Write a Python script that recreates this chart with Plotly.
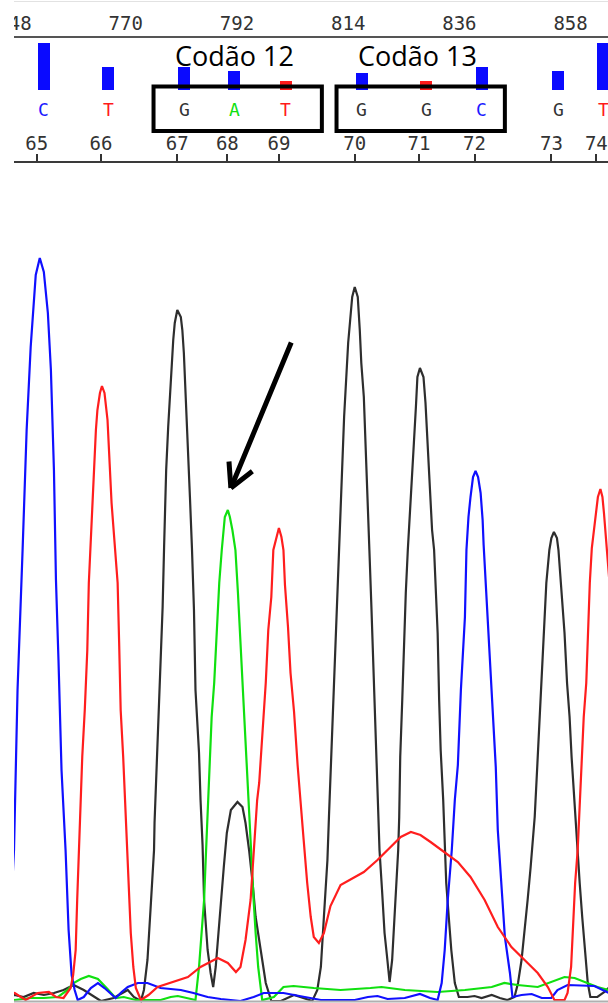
import plotly.graph_objects as go

# ---------------- data ----------------
scan_ticks = [748, 770, 792, 814, 836, 858]
base_numbers = [65, 66, 67, 68, 69, 70, 71, 72, 73, 74]
base_calls = ["C", "T", "G", "A", "T", "G", "G", "C", "G", "T"]
base_scan = [752.4, 765.1, 780.2, 790.1, 800.3, 815.3, 828.0, 839.0, 854.2, 863.1]
quality = [47, 23, 23, 19, 9, 17, 9, 23, 19, 47]
low_quality = [False, False, False, False, True, False, True, False, False, False]
codon_labels = ["Codão 12", "Codão 13"]
codon_spans = [(775.5, 808.8), (811.7, 845.0)]   # scan extent of each codon box

# channel traces: scan position and signal intensity
blue_scan = [743.3, 745.3, 745.9, 746.9, 747.9, 748.6, 749.6, 750.4, 751.2, 752.2, 753.0, 753.8, 754.6,
             755.2, 755.8, 756.2, 756.7, 757.3, 758.1, 758.7, 759.3, 759.9, 760.5, 761.7, 763.1, 764.5,
             765.8, 767.0, 768.0, 769.2, 770.4, 772.4, 774.3, 776.9, 780.9, 783.4, 786.2, 788.8, 792.7,
             795.3, 797.3, 801.2, 804.6, 808.6, 815.3, 817.9, 819.8, 821.8, 825.2, 828.2, 830.2, 831.7,
             832.5, 833.1, 833.7, 834.5, 835.1, 835.7, 836.3, 837.1, 837.4, 837.8, 838.2, 838.7, 839.2,
             839.7, 840.2, 840.6, 840.8, 841.6, 842.2, 842.8, 843.2, 843.6, 844.4, 845.0, 846.0, 846.5,
             848.3, 850.3, 852.3, 854.2, 855.4, 857.4, 862.7, 865.5, 866.9]
blue_signal = [0, 2, 5, 48, 148, 308, 448, 568, 651, 723, 740, 726, 685,
               628, 528, 418, 338, 228, 148, 68, 23, 8, -2, 1, 10, 15,
               10, 5, 0, 6, 11, 15, 15, 10, 8, 5, 1, -1, -3,
               1, 5, 5, 2, -2, -2, 1, 2, -1, 0, 4, 0, -2,
               15, 48, 98, 148, 198, 233, 308, 381, 448, 481, 501, 521, 527,
               521, 505, 478, 453, 381, 321, 268, 231, 168, 105, 61, 25, 1,
               3, 4, 0, 0, 8, 13, 12, 5, 2]

red_scan = [743.3, 748.0, 750.2, 752.6, 754.8, 756.2, 757.7, 759.1, 759.6, 760.1, 760.4, 760.7, 761.1,
            761.4, 761.9, 762.4, 762.7, 763.1, 763.4, 763.7, 764.1, 764.4, 764.9, 765.3, 765.8, 766.4,
            766.8, 767.2, 767.8, 768.4, 768.7, 769.0, 769.5, 769.9, 770.3, 770.7, 771.0, 771.5, 772.0,
            773.0, 774.5, 776.3, 779.5, 782.3, 784.8, 788.2, 790.2, 791.8, 792.7, 793.7, 794.7, 795.4,
            796.0, 796.4, 797.0, 797.7, 798.2, 798.8, 799.2, 799.9, 800.3, 800.8, 801.2, 801.5, 802.1,
            802.6, 803.3, 804.0, 804.7, 805.2, 805.9, 806.6, 807.2, 808.2, 809.2, 810.5, 812.5, 814.5,
            817.1, 819.8, 822.4, 824.4, 826.4, 828.3, 830.3, 832.9, 835.7, 838.2, 841.0, 843.6, 846.3,
            848.9, 851.5, 853.5, 854.8, 856.8, 857.4, 858.1, 858.5, 858.9, 859.4, 859.8, 860.2, 860.6,
            861.1, 861.4, 861.8, 862.2, 862.6, 862.9, 863.4, 863.9, 864.3, 864.6, 864.9, 865.2, 865.7,
            866.1, 866.7, 867.2, 867.7, 868.1, 868.5, 869.7, 870.5, 871.8]
red_signal = [3, 5, -2, 5, 6, 1, 0, 10, 23, 48, 98, 148, 198,
              241, 288, 348, 415, 458, 501, 535, 568, 588, 605, 612, 605, 578,
              538, 495, 455, 415, 355, 288, 241, 195, 148, 98, 65, 31, 10,
              -2, 3, 11, 16, 21, 31, 40, 35, 26, 31, 58, 98, 148,
              198, 215, 261, 315, 368, 401, 448, 461, 470, 461, 448, 413, 371,
              325, 286, 233, 193, 158, 115, 81, 61, 55, 65, 92, 113, 119,
              126, 138, 151, 161, 166, 163, 156, 146, 136, 121, 98, 71, 51,
              38, 25, 11, -2, -2, 5, 31, 81, 115, 148, 198, 241, 281,
              315, 365, 415, 450, 468, 485, 501, 509, 501, 485, 468, 450, 415,
              365, 315, 281, 241, 198, 148, 31, 5, 0]

green_scan = [743.3, 748.0, 751.2, 753.8, 756.6, 758.5, 759.7, 761.1, 762.7, 764.5, 766.4, 768.0, 769.6,
              772.0, 776.9, 778.9, 780.3, 782.3, 783.8, 784.5, 785.0, 785.5, 785.9, 786.2, 786.5, 786.7,
              787.0, 787.5, 788.0, 788.5, 789.0, 789.3, 789.6, 790.2, 790.6, 791.1, 791.7, 792.2, 792.7,
              793.1, 793.6, 794.1, 794.4, 794.7, 795.3, 795.7, 796.2, 797.0, 799.3, 801.2, 803.2, 807.2,
              812.5, 818.4, 820.6, 825.2, 831.7, 837.1, 842.4, 844.9, 847.5, 851.5, 854.2, 856.8, 858.8,
              861.4, 863.3, 865.5, 867.9]
green_signal = [0, -2, 0, 0, 1, 8, 15, 19, 22, 19, 9, 0, 1,
                -2, -2, 1, 2, 0, -2, 31, 65, 98, 148, 181, 215, 241,
                281, 315, 365, 415, 448, 468, 481, 488, 481, 468, 448, 405, 355,
                308, 261, 215, 181, 148, 98, 65, 31, -2, 1, 11, 12, 10,
                8, 10, 11, 8, 6, 8, 11, 15, 13, 11, 16, 21, 20,
                15, 11, 8, 6]

black_scan = [743.3, 748.0, 749.8, 751.8, 753.8, 755.8, 757.7, 759.7, 761.7, 763.7, 765.1, 767.6, 770.4,
              771.6, 773.0, 773.6, 774.3, 774.9, 775.6, 775.7, 776.1, 776.4, 776.9, 777.3, 777.6, 777.8,
              778.0, 778.4, 778.8, 779.1, 779.4, 779.7, 780.2, 780.9, 781.2, 781.5, 781.9, 782.2, 782.7,
              783.1, 783.5, 783.8, 784.5, 784.8, 785.2, 785.5, 786.2, 786.8, 787.3, 787.8, 788.3, 788.8,
              789.4, 790.0, 790.8, 792.1, 793.1, 793.7, 794.4, 795.1, 795.7, 796.7, 797.7, 798.8, 800.7,
              803.3, 805.3, 806.9, 807.9, 808.6, 809.2, 809.9, 810.2, 810.7, 811.0, 811.5, 811.8, 812.2,
              812.3, 812.8, 813.2, 813.6, 814.0, 814.4, 814.8, 815.3, 815.9, 816.3, 816.6, 817.1, 817.5,
              817.9, 818.2, 818.6, 819.0, 819.4, 819.9, 820.2, 820.7, 821.2, 821.7, 822.2, 822.7, 823.2,
              823.7, 823.9, 824.1, 824.3, 824.7, 825.0, 825.4, 825.8, 826.0, 826.5, 827.0, 827.4, 827.7,
              828.2, 828.9, 829.3, 829.7, 830.2, 830.6, 831.0, 831.3, 831.7, 832.0, 832.3, 832.8, 833.1,
              833.4, 833.9, 834.4, 835.1, 835.9, 837.6, 839.0, 840.4, 842.4, 844.0, 845.5, 846.9, 847.6,
              848.3, 848.9, 849.5, 850.1, 850.4, 850.9, 851.4, 851.9, 852.3, 852.7, 853.2, 853.8, 854.2,
              854.7, 855.3, 855.6, 856.2, 856.8, 857.3, 857.8, 858.2, 858.7, 859.2, 859.8, 860.3, 860.9,
              861.4, 861.9, 863.3, 864.7, 865.5, 866.9]
black_signal = [1, 3, 1, 5, 3, 5, 8, 13, 8, 1, -3, 0, 8,
                1, -3, 8, 38, 88, 148, 175, 228, 275, 325, 391, 453, 491,
                528, 571, 611, 641, 658, 675, 688, 681, 668, 645, 601, 555, 501,
                450, 388, 308, 245, 198, 153, 98, 48, 25, 11, 31, 65, 98,
                131, 165, 188, 196, 191, 175, 148, 115, 81, 48, 15, -3, -3,
                3, 0, -3, 8, 31, 81, 138, 181, 248, 298, 348, 398, 448,
                468, 535, 581, 618, 655, 678, 701, 711, 701, 668, 635, 601, 551,
                501, 448, 391, 331, 281, 215, 148, 108, 65, 41, 16, 38, 81,
                131, 148, 181, 241, 298, 348, 405, 448, 468, 515, 555, 591, 621,
                630, 621, 595, 558, 515, 468, 448, 415, 365, 298, 248, 198, 148,
                115, 81, 48, 15, 1, 1, 2, 0, 3, 0, -2, 1, 15,
                38, 65, 98, 131, 148, 181, 231, 281, 315, 365, 415, 448, 460,
                466, 460, 448, 408, 365, 315, 281, 241, 198, 163, 115, 81, 48,
                15, 1, 1, 6, 10, 23]

# ---------------- layout helpers ----------------
W, H = 608, 1003
def py(p):
    return (H - p) / H

X_LEFT = 14 / W
X_RANGE = [747.9, 865.4]
LETTER_SHIFT = 1.4
MONO = "DejaVu Sans Mono"
base_colors = {"C": "#1a1aff", "T": "#ff1a1a", "G": "#333333", "A": "#10e010"}

fig = go.Figure()

channels = [
    (black_scan, black_signal, "#2e2e2e"),
    (green_scan, green_signal, "#10e010"),
    (blue_scan, blue_signal, "#1010ff"),
    (red_scan, red_signal, "#ff1e1e"),
]
for xs, ys, col in channels:
    fig.add_trace(go.Scatter(x=xs, y=ys, mode="lines", line=dict(color=col, width=2.2),
                             xaxis="x", yaxis="y", hoverinfo="skip", showlegend=False))

letter_x = [s + LETTER_SHIFT for s in base_scan]
fig.add_trace(go.Bar(x=letter_x, y=quality, width=2.37,
                     marker=dict(color=["#ff1a1a" if lq else "#0a0aff" for lq in low_quality], line_width=0),
                     xaxis="x2", yaxis="y2", hoverinfo="skip", showlegend=False))

annotations = []
for lx, b in zip(letter_x, base_calls):
    annotations.append(dict(x=lx, y=py(110), xref="x", yref="paper", text=b, showarrow=False,
                            font=dict(family=MONO, size=18, color=base_colors[b]),
                            xanchor="center", yanchor="middle"))

shapes = []
for lab, (x0, x1) in zip(codon_labels, codon_spans):
    shapes.append(dict(type="rect", xref="x", yref="paper", x0=x0, x1=x1, y0=py(131), y1=py(86.5),
                       line=dict(color="black", width=4), fillcolor="rgba(0,0,0,0)", layer="above"))
    annotations.append(dict(x=(x0 + x1) / 2 - 0.6, y=py(55), xref="x", yref="paper", text=lab,
                            showarrow=False, font=dict(family="Open Sans", size=27, color="black"),
                            xanchor="center", yanchor="middle"))

# arrow pointing at the green (A) peak
gi = green_signal.index(max(green_signal))
hx, hy = green_scan[gi] + 0.6, green_signal[gi] + 22
for ax, ay in [(61, -147), (-2, -28), (23, -18)]:
    annotations.append(dict(x=hx, y=hy, xref="x", yref="y", ax=ax, ay=ay, text="",
                            showarrow=True, arrowhead=0, arrowwidth=5, arrowcolor="black"))

# cropped left edge and frame lines
shapes.append(dict(type="rect", xref="paper", yref="paper", x0=0, x1=X_LEFT, y0=0, y1=1,
                   fillcolor="white", line_width=0, layer="above"))
shapes.append(dict(type="line", xref="paper", yref="paper", x0=X_LEFT, x1=1, y0=py(1.5), y1=py(1.5),
                   line=dict(color="#e2e2e2", width=1)))
shapes.append(dict(type="line", xref="paper", yref="paper", x0=X_LEFT, x1=1, y0=py(1001.5), y1=py(1001.5),
                   line=dict(color="#b0b0b0", width=2)))

fig.update_layout(
    width=W, height=H, margin=dict(l=0, r=0, t=0, b=0, autoexpand=False),
    paper_bgcolor="white", plot_bgcolor="white",
    showlegend=False, hovermode=False, bargap=0,
    xaxis=dict(domain=[X_LEFT, 1], range=X_RANGE, anchor="y", side="top",
               tickmode="array", tickvals=base_scan, ticktext=[str(n) for n in base_numbers],
               ticks="outside", ticklen=7, tickwidth=2, tickcolor="#333", ticklabelstandoff=-4,
               ticklabeloverflow="allow", automargin=False,
               showline=True, linecolor="#3a3a3a", linewidth=2, showgrid=False, zeroline=False,
               tickfont=dict(family=MONO, size=19, color="#333")),
    yaxis=dict(domain=[0, py(163)], range=[-5, 835], visible=False, fixedrange=True),
    xaxis2=dict(domain=[X_LEFT, 1], range=X_RANGE, matches="x", anchor="y2", side="top",
                tickmode="array", tickvals=scan_ticks, ticks="", ticklabelstandoff=-2,
                ticklabeloverflow="allow", automargin=False,
                showline=True, linecolor="#555", linewidth=2, showgrid=False, zeroline=False,
                tickfont=dict(family=MONO, size=19, color="#333")),
    yaxis2=dict(domain=[py(90), py(38)], range=[0, 52], visible=False, fixedrange=True),
    annotations=annotations, shapes=shapes,
)

fig.write_html("out.html", config={"displayModeBar": False, "staticPlot": True},
               post_script="document.body.style.margin='0';document.body.style.overflow='hidden';")
